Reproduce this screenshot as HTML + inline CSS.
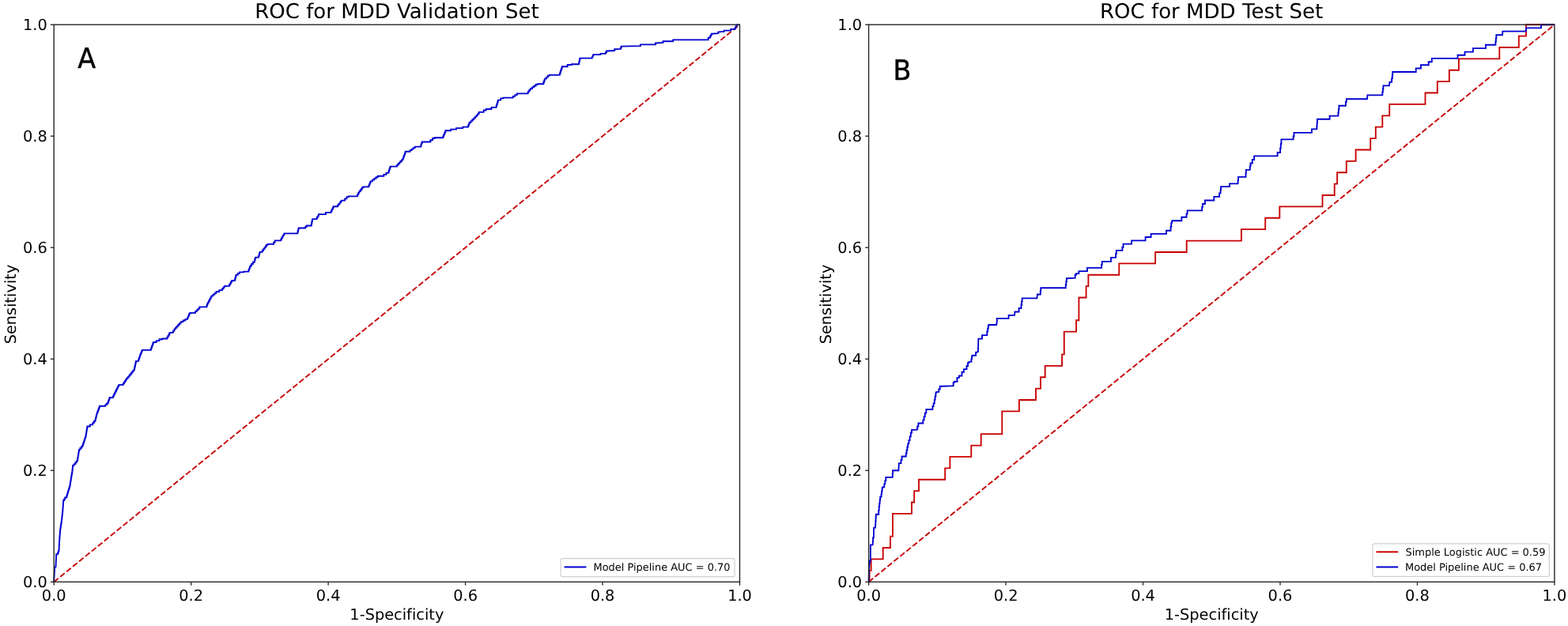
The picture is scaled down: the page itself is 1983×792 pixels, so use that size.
<!DOCTYPE html>
<html><head><meta charset="utf-8"><title>ROC for MDD</title>
<style>html,body{margin:0;padding:0;background:#fff;width:1983px;height:792px;overflow:hidden}svg{display:block}text{text-rendering:geometricPrecision;font-variant-ligatures:none;font-feature-settings:"liga" 0,"kern" 1}</style>
</head><body>
<svg width="1983" height="792" viewBox="0 0 1983 792">
<rect width="1983" height="792" fill="#fff"/>
<line x1="68.2" y1="736.2" x2="935.5" y2="31.2" stroke="#c80000" stroke-width="1.9" stroke-dasharray="7.2,3.05"/>
<line x1="1098.6" y1="736.2" x2="1965.9" y2="31.2" stroke="#c80000" stroke-width="1.9" stroke-dasharray="7.2,3.05"/>
<polyline points="68.2,736.2 68.2,734.33 68.3,734.33 68.3,732.47 68.4,732.47 68.4,730.6 68.5,730.6 68.5,728.73 68.6,728.73 68.6,726.87 68.7,726.87 68.7,725 68.8,725 68.8,723.13 68.9,723.13 68.9,721.27 69,721.27 69,719.4 69.1,719.4 69.1,717.4 70.5,717.4 71.1,703.2 71.1,701.2 73.1,701.2 73.1,699.2 73.8,699.2 73.8,697.2 74.5,697.2 74.5,695.31 74.6,695.31 74.6,693.43 74.7,693.43 74.7,691.54 74.8,691.54 74.8,689.66 74.9,689.66 74.9,687.77 75,687.77 75,685.89 75.1,685.89 75.1,684 75.2,684 75.2,682.14 75.34,682.14 75.34,680.29 75.49,680.29 75.49,678.43 75.63,678.43 75.63,676.57 75.77,676.57 75.77,674.71 75.91,674.71 75.91,672.86 76.06,672.86 76.06,671 76.2,671 76.2,669.3 76.47,669.3 76.47,667.6 76.73,667.6 76.73,665.9 77,665.9 77,664.2 77.27,664.2 77.27,662.5 77.53,662.5 77.53,660.8 77.8,660.8 77.8,659.07 78,659.07 78,657.34 78.2,657.34 78.2,655.61 78.4,655.61 78.4,653.89 78.6,653.89 78.6,652.16 78.8,652.16 78.8,650.43 79,650.43 79,648.7 79.2,648.7 79.2,646.93 79.33,646.93 79.33,645.15 79.45,645.15 79.45,643.38 79.58,643.38 79.58,641.6 79.7,641.6 79.7,639.83 79.83,639.83 79.83,638.05 79.95,638.05 79.95,636.27 80.08,636.27 80.08,634.5 80.2,634.5 80.2,633 81.2,633 81.2,631.5 82.2,631.5 82.2,629.5 84.2,629.5 84.2,627.73 84.72,627.73 84.72,625.95 85.25,625.95 85.25,624.17 85.78,624.17 85.78,622.4 86.3,622.4 86.3,620.4 86.97,620.4 86.97,618.4 87.63,618.4 87.63,616.4 88.3,616.4 88.3,614.72 88.57,614.72 88.57,613.03 88.83,613.03 88.83,611.35 89.1,611.35 89.1,609.67 89.37,609.67 89.37,607.98 89.63,607.98 89.63,606.3 89.9,606.3 89.9,604.27 90.25,604.27 90.25,602.25 90.6,602.25 90.6,600.23 90.95,600.23 90.95,598.2 91.3,598.2 91.3,596.56 91.48,596.56 91.48,594.92 91.66,594.92 91.66,593.28 91.84,593.28 91.84,591.64 92.02,591.64 92.02,590 92.2,590 92.2,588.55 93.8,588.55 93.8,587.1 95.4,587.1 95.4,585.25 96.65,585.25 96.65,583.4 97.9,583.4 97.9,581.57 98.2,581.57 98.2,579.74 98.5,579.74 98.5,577.91 98.8,577.91 98.8,576.09 99.1,576.09 99.1,574.26 99.4,574.26 99.4,572.43 99.7,572.43 99.7,570.6 100,570.6 100,568.8 101.43,568.8 101.43,567 102.87,567 102.87,565.2 104.3,565.2 104.3,563.6 104.85,563.6 104.85,562 105.4,562 105.4,560.4 105.95,560.4 105.95,558.8 106.5,558.8 106.5,557.17 107.03,557.17 107.03,555.55 107.55,555.55 107.55,553.92 108.07,553.92 108.07,552.3 108.6,552.3 108.6,550.52 108.88,550.52 108.88,548.73 109.17,548.73 109.17,546.95 109.45,546.95 109.45,545.17 109.73,545.17 109.73,543.38 110.02,543.38 110.02,541.6 110.3,541.6 110.3,539.45 113.75,539.45 113.75,537.3 117.2,537.3 117.2,535.15 118.8,535.15 118.8,533 120.4,533 120.4,531.28 120.84,531.28 120.84,529.56 121.28,529.56 121.28,527.84 121.72,527.84 121.72,526.12 122.16,526.12 122.16,524.4 122.6,524.4 122.6,522.68 123.24,522.68 123.24,520.96 123.88,520.96 123.88,519.24 124.52,519.24 124.52,517.52 125.16,517.52 125.16,515.8 125.8,515.8 125.8,513.7 133.3,513.7 133.3,512.1 134.9,512.1 134.9,510.5 136.5,510.5 136.5,508.7 137.2,508.7 137.2,506.9 137.9,506.9 137.9,505.1 138.6,505.1 138.6,503 142.9,503 142.9,501.38 143.72,501.38 143.72,499.75 144.55,499.75 144.55,498.12 145.38,498.12 145.38,496.5 146.2,496.5 146.2,494.78 147.06,494.78 147.06,493.06 147.92,493.06 147.92,491.34 148.78,491.34 148.78,489.62 149.64,489.62 149.64,487.9 150.5,487.9 150.5,486.9 155.8,486.9 155.8,485.27 156.88,485.27 156.88,483.65 157.95,483.65 157.95,482.02 159.03,482.02 159.03,480.4 160.1,480.4 160.1,478.8 161.45,478.8 161.45,477.2 162.8,477.2 162.8,475.6 164.15,475.6 164.15,474 165.5,474 165.5,472.2 166.93,472.2 166.93,470.4 168.37,470.4 168.37,468.6 169.8,468.6 169.8,466.68 170.22,466.68 170.22,464.76 170.64,464.76 170.64,462.84 171.06,462.84 171.06,460.92 171.48,460.92 171.48,459 171.9,459 171.9,456.8 175.1,456.8 175.1,455.2 175.65,455.2 175.65,453.6 176.2,453.6 176.2,452 176.75,452 176.75,450.4 177.3,450.4 177.3,448.52 178.1,448.52 178.1,446.65 178.9,446.65 178.9,444.77 179.7,444.77 179.7,442.9 180.5,442.9 190.9,442.9 190.9,441.22 191.5,441.22 191.5,439.54 192.1,439.54 192.1,437.86 192.7,437.86 192.7,436.18 193.3,436.18 193.3,434.5 193.9,434.5 193.9,433 197.7,433 197.7,431.1 201.5,431.1 201.5,429.2 205.3,429.2 205.3,428.5 211.4,428.5 211.4,426.73 212.4,426.73 212.4,424.97 213.4,424.97 213.4,423.2 214.4,423.2 214.4,420.9 218.9,420.9 218.9,418.65 220.45,418.65 220.45,416.4 222,416.4 222,414.5 223.7,414.5 223.7,412.6 225.4,412.6 225.4,410.7 227.1,410.7 227.1,408.8 228.8,408.8 228.8,407.17 231.57,407.17 231.57,405.53 234.33,405.53 234.33,403.9 237.1,403.9 237.1,402.1 237.88,402.1 237.88,400.3 238.65,400.3 238.65,398.5 239.42,398.5 239.42,396.7 240.2,396.7 240.2,395.9 247,395.9 247,394.13 248.77,394.13 248.77,392.37 250.53,392.37 250.53,390.6 252.3,390.6 252.3,388.3 261.4,388.3 261.4,386.4 262.15,386.4 262.15,384.5 262.9,384.5 262.9,382.84 263.8,382.84 263.8,381.18 264.7,381.18 264.7,379.52 265.6,379.52 265.6,377.86 266.5,377.86 266.5,376.2 267.4,376.2 267.4,374.43 269.43,374.43 269.43,372.67 271.47,372.67 271.47,370.9 273.5,370.9 273.5,369 277.3,369 277.3,367.1 281.1,367.1 281.1,365.2 282.6,365.2 282.6,363.3 284.1,363.3 284.1,361.8 290.2,361.8 290.2,360.03 291.2,360.03 291.2,358.27 292.2,358.27 292.2,356.5 293.2,356.5 293.2,355 297,355 297,353.23 297.5,353.23 297.5,351.47 298,351.47 298,349.7 298.5,349.7 298.5,347.8 300.75,347.8 300.75,345.9 303,345.9 303,344.4 308.3,344.4 308.3,343.6 314.4,343.6 314.4,341.6 315.17,341.6 315.17,339.6 315.93,339.6 315.93,337.6 316.7,337.6 316.7,336.2 318,336.2 318,333.95 319.9,333.95 319.9,331.7 321.8,331.7 321.8,329.93 322.3,329.93 322.3,328.17 322.8,328.17 322.8,326.4 323.3,326.4 323.3,325.6 327.1,325.6 327.1,323.83 327.6,323.83 327.6,322.07 328.1,322.07 328.1,320.3 328.6,320.3 328.6,318.8 331.7,318.8 331.7,316.98 333.06,316.98 333.06,315.16 334.42,315.16 334.42,313.34 335.78,313.34 335.78,311.52 337.14,311.52 337.14,309.7 338.5,309.7 338.5,308.9 346.1,308.9 346.1,306.7 347.6,306.7 347.6,304.4 355.2,304.4 355.2,302.58 356.26,302.58 356.26,300.76 357.32,300.76 357.32,298.94 358.38,298.94 358.38,297.12 359.44,297.12 359.44,295.3 360.5,295.3 376.4,295.3 376.4,293.27 376.9,293.27 376.9,291.23 377.4,291.23 377.4,289.2 377.9,289.2 377.9,288.5 386.2,288.5 386.2,287 387.7,287 387.7,285.5 393.8,285.5 393.8,283.6 394.18,283.6 394.18,281.7 394.55,281.7 394.55,279.8 394.93,279.8 394.93,277.9 395.3,277.9 395.3,277.1 400.6,277.1 400.6,275.2 401.75,275.2 401.75,273.3 402.9,273.3 402.9,271.1 412,271.1 412,268.8 418.8,268.8 418.8,266.77 419.8,266.77 419.8,264.73 420.8,264.73 420.8,262.7 421.8,262.7 421.8,261.2 427.1,261.2 427.1,259.5 428.43,259.5 428.43,257.8 429.75,257.8 429.75,256.1 431.07,256.1 431.07,254.4 432.4,254.4 432.4,253.6 436.2,253.6 436.2,251.35 438.5,251.35 438.5,249.1 440.8,249.1 440.8,248.3 452.1,248.3 452.1,246.05 453.25,246.05 453.25,243.8 454.4,243.8 454.4,242.12 455.67,242.12 455.67,240.45 456.95,240.45 456.95,238.78 458.23,238.78 458.23,237.1 459.5,237.1 459.5,236.4 466.4,236.4 466.4,234.63 467.13,234.63 467.13,232.87 467.87,232.87 467.87,231.1 468.6,231.1 468.6,229.38 470.88,229.38 470.88,227.65 473.15,227.65 473.15,225.92 475.43,225.92 475.43,224.2 477.7,224.2 477.7,222.7 485.3,222.7 485.3,220.8 488.35,220.8 488.35,218.9 491.4,218.9 491.4,217.2 491.95,217.2 491.95,215.5 492.5,215.5 492.5,213.8 493.05,213.8 493.05,212.1 493.6,212.1 493.6,210.6 502,210.6 502,208.94 503.5,208.94 503.5,207.28 505,207.28 505,205.62 506.5,205.62 506.5,203.96 508,203.96 508,202.3 509.5,202.3 509.5,200.62 510.12,200.62 510.12,198.94 510.74,198.94 510.74,197.26 511.36,197.26 511.36,195.58 511.98,195.58 511.98,193.9 512.6,193.9 512.6,191.7 518.6,191.7 518.6,190.17 520.63,190.17 520.63,188.63 522.67,188.63 522.67,187.1 524.7,187.1 524.7,185.6 532.3,185.6 532.3,183.35 533.05,183.35 533.05,181.1 533.8,181.1 533.8,179.5 544.4,179.5 544.4,177.25 547.05,177.25 547.05,175 549.7,175 549.7,174.2 560.3,174.2 560.3,172.5 561.05,172.5 561.05,170.8 561.8,170.8 561.8,169.1 562.55,169.1 562.55,167.4 563.3,167.4 563.3,165.2 570.2,165.2 570.2,163.6 577,163.6 577,162.1 585.3,162.1 585.3,160.6 592.1,160.6 592.1,158.7 592.85,158.7 592.85,156.8 593.6,156.8 593.6,154.95 595.48,154.95 595.48,153.1 597.35,153.1 597.35,151.25 599.23,151.25 599.23,149.4 601.1,149.4 601.1,147.63 602.6,147.63 602.6,145.87 604.1,145.87 604.1,144.1 605.6,144.1 605.6,141.8 611.7,141.8 611.7,139.5 614.7,139.5 614.7,138 621.5,138 621.5,135.8 627.6,135.8 627.6,134.08 628.15,134.08 628.15,132.35 628.7,132.35 628.7,130.62 629.25,130.62 629.25,128.9 629.8,128.9 629.8,126.65 633.25,126.65 633.25,124.4 636.7,124.4 636.7,123.6 648.8,123.6 648.8,121.83 651.33,121.83 651.33,120.07 653.87,120.07 653.87,118.3 656.4,118.3 667.7,118.3 667.7,116.05 669.25,116.05 669.25,113.8 670.8,113.8 670.8,112.1 673.05,112.1 673.05,110.4 675.3,110.4 675.3,108.7 677.55,108.7 677.55,107 679.8,107 679.8,106.2 687.4,106.2 687.4,103.95 688.15,103.95 688.15,101.7 688.9,101.7 688.9,99.67 690.93,99.67 690.93,97.63 692.97,97.63 692.97,95.6 695,95.6 695,94.8 707.9,94.8 707.9,93 708.5,93 708.5,91.2 709.1,91.2 709.1,89.4 709.7,89.4 709.7,87.6 710.3,87.6 710.3,85.8 710.9,85.8 710.9,84.2 717.7,84.2 717.7,82 723,82 723,81.2 732.1,81.2 732.1,79.5 732.48,79.5 732.48,77.8 732.85,77.8 732.85,76.1 733.23,76.1 733.23,74.4 733.6,74.4 733.6,73.6 748.8,73.6 748.8,72.1 749.55,72.1 749.55,70.6 750.3,70.6 750.3,69.1 759.4,69.1 759.4,67.8 761.7,67.8 765.9,67.8 765.9,66.15 767.05,66.15 767.05,64.5 768.2,64.5 777.2,64 777.2,62.2 778.2,62.2 785,61.8 785,60.2 785.65,60.2 785.65,58.6 786.3,58.6 809.9,58.1 809.9,56.3 810.8,56.3 829,56.3 829,54.5 829.9,54.5 838.5,54 838.5,52.2 839.4,52.2 851.2,52.2 851.2,50.4 852.1,50.4 895.7,50.4 895.7,47.7 898,47.7 898,46.03 898.9,46.03 898.9,44.37 899.8,44.37 899.8,42.7 900.7,42.7 908.4,42.2 908.4,40.4 909.3,40.4 915.7,40 915.7,38.6 916.6,38.6 924.3,38.6 924.3,36.8 926.1,36.8 929.7,36.8 929.7,34.55 930.85,34.55 930.85,32.3 932,32.3 932,31.4 934.7,31.4 935.5,31.2" fill="none" stroke="#0000d0" stroke-width="1.85" stroke-linejoin="miter"/>
<polyline points="1098.6,736.2 1099.6,736.2 1099.6,721.81 1101.6,721.81 1101.6,707.42 1116.7,707.42 1116.7,693.04 1126,693.04 1126,678.65 1129,678.65 1129,649.87 1153,649.87 1153,635.49 1156.2,635.49 1156.2,621.1 1162,621.1 1162,606.71 1195.2,606.71 1195.2,592.32 1201.4,592.32 1201.4,577.93 1228.3,577.93 1228.3,563.55 1240.7,563.55 1240.7,549.16 1267.3,549.16 1267.3,520.38 1288.9,520.38 1288.9,506 1310,506 1310,491.61 1316,491.61 1316,477.22 1321.7,477.22 1321.7,462.83 1343.1,462.83 1343.1,448.44 1345.8,448.44 1345.8,419.67 1361.1,419.67 1361.1,405.28 1364.4,405.28 1364.4,376.51 1373.6,376.51 1373.6,362.12 1376.4,362.12 1376.4,347.73 1415.3,347.73 1415.3,333.34 1461.1,333.34 1461.1,318.96 1500.7,318.96 1500.7,304.57 1569.9,304.57 1569.9,290.18 1600.2,290.18 1600.2,275.79 1618.3,275.79 1618.3,261.4 1672.5,261.4 1672.5,247.02 1687.7,247.02 1687.7,232.63 1691.1,232.63 1691.1,218.24 1702.8,218.24 1702.8,203.85 1714.6,203.85 1714.6,189.47 1733.2,189.47 1733.2,175.08 1739.8,175.08 1739.8,160.69 1748.3,160.69 1748.3,146.3 1757.2,146.3 1757.2,131.91 1802.5,131.91 1802.5,117.53 1817.8,117.53 1817.8,103.14 1832.8,103.14 1832.8,88.75 1844.9,88.75 1844.9,74.36 1896.3,74.36 1896.3,59.98 1920.8,59.98 1920.8,45.59 1930,45.59 1930,31.2 1965.9,31.2" fill="none" stroke="#c80000" stroke-width="1.85"/>
<polyline points="1098.6,736.2 1099,720.6 1099,716.55 1099.45,716.55 1099.45,712.5 1099.9,712.5 1099.9,709.5 1100.9,709.5 1100.9,689.3 1103.6,689.3 1104.1,684.2 1104.1,680.2 1104.9,680.2 1105.1,667.6 1107.1,667.6 1107.1,663.3 1107.33,663.3 1107.33,659 1107.57,659 1107.57,654.7 1107.8,654.7 1107.8,650.7 1109.8,650.7 1111.2,650.7 1111.2,645.65 1111.7,645.65 1111.7,640.6 1112.2,640.6 1112.2,636.55 1112.7,636.55 1112.7,632.5 1113.2,632.5 1113.2,628.5 1114.6,628.5 1114.6,624.8 1115.13,624.8 1115.13,621.1 1115.67,621.1 1115.67,617.4 1116.2,617.4 1116.2,616.4 1118.3,616.4 1118.3,612.35 1119.3,612.35 1119.3,608.3 1120.3,608.3 1120.3,603.8 1121.9,603.8 1128.8,603.8 1128.8,599.5 1129.1,599.5 1129.1,595.2 1129.4,595.2 1136.4,595.2 1136.8,587.1 1136.8,586.1 1139.5,586.1 1139.5,582 1140.5,582 1140.5,577.5 1143.4,577.5 1145.8,577.5 1145.8,573.5 1146.6,573.5 1146.6,569.5 1147.4,569.5 1147.4,565.5 1148.2,565.5 1148.2,561.3 1149.4,561.3 1149.4,557.1 1150.6,557.1 1150.6,552.3 1151.8,552.3 1151.8,547.5 1153,547.5 1153,543.9 1156.6,543.9 1160.2,543.4 1160.2,539.45 1161.4,539.45 1161.4,535.5 1162.6,535.5 1167.4,535.5 1167.4,531.3 1168.6,531.3 1168.6,527.1 1169.8,527.1 1169.8,522.55 1171.35,522.55 1171.35,518 1172.9,518 1179.4,518 1179.4,514.15 1180.6,514.15 1180.6,510.3 1181.8,510.3 1181.8,505.9 1182.6,505.9 1182.6,501.5 1183.4,501.5 1183.4,497.1 1184.2,497.1 1184.2,495.9 1187.3,495.9 1187.3,492.3 1188.75,492.3 1188.75,488.7 1190.2,488.7 1205.7,488.2 1205.7,483.9 1206.9,483.9 1206.9,482.7 1210.5,482.7 1210.5,477.9 1212.9,477.9 1212.9,475.5 1216.5,475.5 1216.5,470.7 1218.9,470.7 1218.9,467.1 1222.5,467.1 1222.5,462.95 1224.05,462.95 1224.05,458.8 1225.6,458.8 1225.6,457.6 1228.5,457.6 1228.5,454 1229.1,454 1229.1,450.4 1229.7,450.4 1229.7,449.7 1230.7,449.7 1234.1,449.7 1234.1,445.7 1235,445.7 1236.9,445.1 1237.3,432.6 1237.3,428.6 1238.6,428.6 1242,428.6 1242,424.1 1243,424.1 1248.3,424.1 1248.3,419.5 1249.1,419.5 1249.1,415.55 1249.85,415.55 1249.85,411.6 1250.6,411.6 1250.6,411 1260.2,411 1260.8,407 1260.8,402.8 1262.5,402.8 1275.6,402.8 1275.6,398.9 1276.4,398.9 1283,398.9 1283.5,394.5 1288.6,394.5 1288.6,390 1289.5,390 1291.5,390 1291.5,385.77 1292.07,385.77 1292.07,381.53 1292.63,381.53 1292.63,377.3 1293.2,377.3 1311.4,377.3 1311.9,373.2 1311.9,372.5 1315.8,372.5 1315.8,368.35 1316.25,368.35 1316.25,364.2 1316.7,364.2 1347.8,364.2 1347.8,360.2 1348.33,360.2 1348.33,356.2 1348.87,356.2 1348.87,352.2 1349.4,352.2 1359.7,351.7 1359.7,347.5 1361.1,347.5 1361.1,346.1 1364.4,346.1 1364.4,343.1 1365.3,343.1 1375,343.1 1375,338.9 1376.4,338.9 1393.1,338.9 1393.1,334.85 1393.75,334.85 1393.75,330.8 1394.4,330.8 1405,330.8 1405,325.8 1406.9,325.8 1411.1,325.8 1411.1,321.35 1411.8,321.35 1411.8,316.9 1412.5,316.9 1419.4,316.9 1419.4,312.75 1420.55,312.75 1420.55,308.6 1421.7,308.6 1431.1,308.6 1431.1,304.4 1431.9,304.4 1448.6,304.4 1448.6,300 1450,300 1455.6,300 1455.6,295.8 1456.9,295.8 1475,295.8 1475,291.7 1476.4,291.7 1480.6,291.7 1480.6,286.95 1481.25,286.95 1481.25,282.2 1481.9,282.2 1482.3,279.2 1494.4,279.2 1494.4,274.7 1495.2,274.7 1500.5,274.7 1500.5,270.55 1501.6,270.55 1501.6,266.4 1502.7,266.4 1520.2,266.4 1520.2,261.8 1520.9,261.8 1520.9,258 1523.9,258 1523.9,253.5 1527,253.5 1535.3,253.5 1535.3,248.9 1536.1,248.9 1542.1,248.9 1542.1,244.4 1543.6,244.4 1543.6,240.25 1544,240.25 1544,236.1 1544.4,236.1 1555,236.1 1555,232.3 1555.8,232.3 1565.6,232.3 1565.6,228.1 1566,228.1 1566,223.9 1566.4,223.9 1575.5,223.9 1575.5,219.35 1575.85,219.35 1575.85,214.8 1576.2,214.8 1580.8,214.8 1580.8,210.3 1581.5,210.3 1581.5,206.5 1583.8,206.5 1583.8,202 1586.1,202 1586.1,197.4 1592.1,197.4 1615.6,197.4 1615.6,193 1617.2,193 1619.1,193 1619.1,187.5 1619.75,187.5 1619.75,182 1620.4,182 1620.4,176.3 1621.7,176.3 1635.6,176.3 1635.6,172.5 1636.5,172.5 1636.5,167.8 1639.9,167.8 1658.9,167.8 1658.9,163.4 1659.6,163.4 1665.3,163.4 1665.3,159.45 1665.6,159.45 1665.6,155.5 1665.9,155.5 1665.9,150.7 1667.8,150.7 1681.6,150.7 1681.6,146.6 1682.4,146.6 1692.4,146.6 1692.4,142.5 1692.9,142.5 1692.9,138.4 1693.4,138.4 1693.4,133.7 1696.2,133.7 1701.9,133.7 1701.9,128.9 1702.8,128.9 1702.8,125.2 1706.6,125.2 1729,125.2 1729.4,120.4 1748.3,120.4 1748.3,116.45 1748.85,116.45 1748.85,112.5 1749.4,112.5 1749.4,108.3 1751.8,108.3 1756.9,108.3 1757.4,103.9 1760.1,103.9 1760.1,99.3 1760.8,99.3 1760.8,95.15 1761.15,95.15 1761.15,91 1761.5,91 1790.7,91 1790.7,86.5 1791.4,86.5 1796.9,86.5 1796.9,82.2 1797.6,82.2 1806.7,82.2 1806.7,78.2 1807.4,78.2 1810.8,78.2 1810.8,73.9 1811.5,73.9 1843.5,73.9 1843.5,69.7 1844.2,69.7 1852.5,69.7 1852.5,65.6 1853.2,65.6 1862.9,65.6 1862.9,61.1 1863.6,61.1 1878.9,61.1 1878.9,56.7 1879.6,56.7 1891.4,56.7 1891.4,52.53 1891.87,52.53 1891.87,48.37 1892.33,48.37 1892.33,44.2 1892.8,44.2 1900,44.2 1900.4,39.6 1929.6,39.6 1930,35.4 1949,35.4 1949,31.2 1949.7,31.2 1965.9,31.2" fill="none" stroke="#0000d0" stroke-width="1.85"/>
<g font-family="'DejaVu Sans', 'Liberation Sans', sans-serif" fill="#000">
<rect x="68.2" y="31.2" width="867.3" height="705" fill="none" stroke="#262626" stroke-width="1.4"/>
<line x1="68.2" y1="736.2" x2="68.2" y2="740.6" stroke="#262626" stroke-width="1.35"/>
<line x1="68.2" y1="736.2" x2="63.8" y2="736.2" stroke="#262626" stroke-width="1.35"/>
<text transform="translate(68.2,760)" font-size="19.35" text-anchor="middle">0.0</text>
<text transform="translate(59.7,743)" font-size="19.35" text-anchor="end">0.0</text>
<line x1="241.66" y1="736.2" x2="241.66" y2="740.6" stroke="#262626" stroke-width="1.35"/>
<line x1="68.2" y1="595.2" x2="63.8" y2="595.2" stroke="#262626" stroke-width="1.35"/>
<text transform="translate(241.66,760)" font-size="19.35" text-anchor="middle">0.2</text>
<text transform="translate(59.7,602)" font-size="19.35" text-anchor="end">0.2</text>
<line x1="415.12" y1="736.2" x2="415.12" y2="740.6" stroke="#262626" stroke-width="1.35"/>
<line x1="68.2" y1="454.2" x2="63.8" y2="454.2" stroke="#262626" stroke-width="1.35"/>
<text transform="translate(415.12,760)" font-size="19.35" text-anchor="middle">0.4</text>
<text transform="translate(59.7,461)" font-size="19.35" text-anchor="end">0.4</text>
<line x1="588.58" y1="736.2" x2="588.58" y2="740.6" stroke="#262626" stroke-width="1.35"/>
<line x1="68.2" y1="313.2" x2="63.8" y2="313.2" stroke="#262626" stroke-width="1.35"/>
<text transform="translate(588.58,760)" font-size="19.35" text-anchor="middle">0.6</text>
<text transform="translate(59.7,320)" font-size="19.35" text-anchor="end">0.6</text>
<line x1="762.04" y1="736.2" x2="762.04" y2="740.6" stroke="#262626" stroke-width="1.35"/>
<line x1="68.2" y1="172.2" x2="63.8" y2="172.2" stroke="#262626" stroke-width="1.35"/>
<text transform="translate(762.04,760)" font-size="19.35" text-anchor="middle">0.8</text>
<text transform="translate(59.7,179)" font-size="19.35" text-anchor="end">0.8</text>
<line x1="935.5" y1="736.2" x2="935.5" y2="740.6" stroke="#262626" stroke-width="1.35"/>
<line x1="68.2" y1="31.2" x2="63.8" y2="31.2" stroke="#262626" stroke-width="1.35"/>
<text transform="translate(935.5,760)" font-size="19.35" text-anchor="middle">1.0</text>
<text transform="translate(59.7,38)" font-size="19.35" text-anchor="end">1.0</text>
<text transform="translate(501.9,23) scale(1.009,1)" font-size="25.8" text-anchor="middle">ROC for MDD Validation Set</text>
<text transform="translate(501.85,783.7)" font-size="19.35" text-anchor="middle">1-Specificity</text>
<text transform="translate(20.1,385) rotate(-90)" font-size="19.35" text-anchor="middle">Sensitivity</text>
<text transform="translate(98.25,85.5) scale(0.95,1)" font-size="35.2" text-anchor="start" stroke="#000" stroke-width="0.45">A</text>
<rect x="1098.6" y="31.2" width="867.3" height="705" fill="none" stroke="#262626" stroke-width="1.4"/>
<line x1="1098.6" y1="736.2" x2="1098.6" y2="740.6" stroke="#262626" stroke-width="1.35"/>
<line x1="1098.6" y1="736.2" x2="1094.2" y2="736.2" stroke="#262626" stroke-width="1.35"/>
<text transform="translate(1098.6,760)" font-size="19.35" text-anchor="middle">0.0</text>
<text transform="translate(1090.1,743)" font-size="19.35" text-anchor="end">0.0</text>
<line x1="1272.06" y1="736.2" x2="1272.06" y2="740.6" stroke="#262626" stroke-width="1.35"/>
<line x1="1098.6" y1="595.2" x2="1094.2" y2="595.2" stroke="#262626" stroke-width="1.35"/>
<text transform="translate(1272.06,760)" font-size="19.35" text-anchor="middle">0.2</text>
<text transform="translate(1090.1,602)" font-size="19.35" text-anchor="end">0.2</text>
<line x1="1445.52" y1="736.2" x2="1445.52" y2="740.6" stroke="#262626" stroke-width="1.35"/>
<line x1="1098.6" y1="454.2" x2="1094.2" y2="454.2" stroke="#262626" stroke-width="1.35"/>
<text transform="translate(1445.52,760)" font-size="19.35" text-anchor="middle">0.4</text>
<text transform="translate(1090.1,461)" font-size="19.35" text-anchor="end">0.4</text>
<line x1="1618.98" y1="736.2" x2="1618.98" y2="740.6" stroke="#262626" stroke-width="1.35"/>
<line x1="1098.6" y1="313.2" x2="1094.2" y2="313.2" stroke="#262626" stroke-width="1.35"/>
<text transform="translate(1618.98,760)" font-size="19.35" text-anchor="middle">0.6</text>
<text transform="translate(1090.1,320)" font-size="19.35" text-anchor="end">0.6</text>
<line x1="1792.44" y1="736.2" x2="1792.44" y2="740.6" stroke="#262626" stroke-width="1.35"/>
<line x1="1098.6" y1="172.2" x2="1094.2" y2="172.2" stroke="#262626" stroke-width="1.35"/>
<text transform="translate(1792.44,760)" font-size="19.35" text-anchor="middle">0.8</text>
<text transform="translate(1090.1,179)" font-size="19.35" text-anchor="end">0.8</text>
<line x1="1965.9" y1="736.2" x2="1965.9" y2="740.6" stroke="#262626" stroke-width="1.35"/>
<line x1="1098.6" y1="31.2" x2="1094.2" y2="31.2" stroke="#262626" stroke-width="1.35"/>
<text transform="translate(1965.9,760)" font-size="19.35" text-anchor="middle">1.0</text>
<text transform="translate(1090.1,38)" font-size="19.35" text-anchor="end">1.0</text>
<text transform="translate(1532.1,23) scale(1.009,1)" font-size="25.8" text-anchor="middle">ROC for MDD Test Set</text>
<text transform="translate(1532.25,783.7)" font-size="19.35" text-anchor="middle">1-Specificity</text>
<text transform="translate(1050.5,385) rotate(-90)" font-size="19.35" text-anchor="middle">Sensitivity</text>
<text transform="translate(1129.45,100.5) scale(0.95,1)" font-size="35.2" text-anchor="start" stroke="#000" stroke-width="0.45">B</text>
</g>
<rect x="709.1" y="706.7" width="220" height="23" rx="2.5" fill="#fff" fill-opacity="0.8" stroke="#cfcfcf" stroke-width="1.2"/>
<line x1="713.6" y1="717.4" x2="741.4" y2="717.4" stroke="#0000d0" stroke-width="2"/>
<text transform="translate(750.5,721.7) scale(1.004,1)" font-size="12.9" font-family="'DejaVu Sans', 'Liberation Sans', sans-serif" fill="#000">Model Pipeline AUC = 0.70</text>
<rect x="1735.9" y="687.9" width="223.5" height="41.5" rx="2.5" fill="#fff" fill-opacity="0.8" stroke="#cfcfcf" stroke-width="1.2"/>
<line x1="1740.4" y1="698.3" x2="1768.2" y2="698.3" stroke="#c80000" stroke-width="2"/>
<text transform="translate(1777.5,702.6) scale(1.004,1)" font-size="12.9" font-family="'DejaVu Sans', 'Liberation Sans', sans-serif" fill="#000">Simple Logistic AUC = 0.59</text>
<line x1="1740.4" y1="717.4" x2="1768.2" y2="717.4" stroke="#0000d0" stroke-width="2"/>
<text transform="translate(1777,721.7) scale(1.004,1)" font-size="12.9" font-family="'DejaVu Sans', 'Liberation Sans', sans-serif" fill="#000">Model Pipeline AUC = 0.67</text>
</svg>
</body></html>
